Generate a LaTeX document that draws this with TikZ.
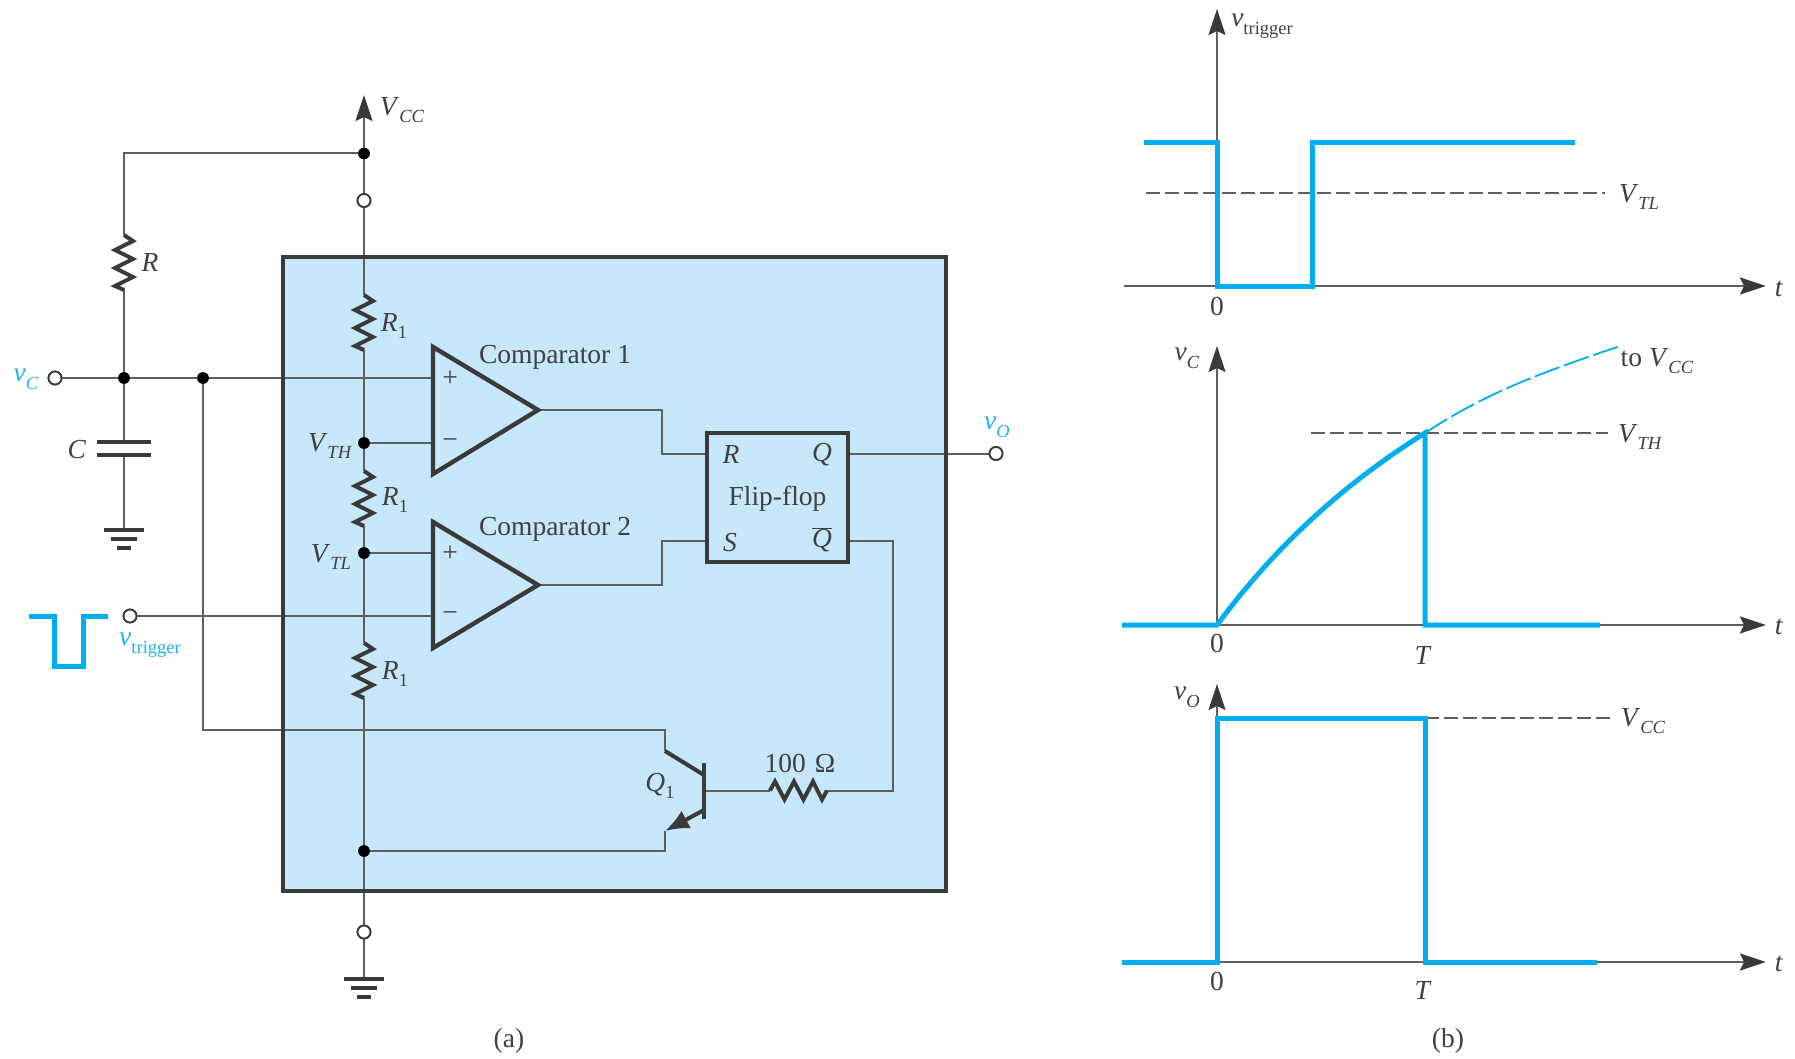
\documentclass[tikz,border=0pt]{standalone}
\usepackage{fontspec}
\setmainfont{Liberation Serif}
\usetikzlibrary{arrows.meta}
\definecolor{boxfill}{HTML}{C6E8FA}
\definecolor{sigblue}{HTML}{00AEEF}
\definecolor{labblue}{HTML}{1FB3E6}
\definecolor{ink}{HTML}{3A3A3A}
\definecolor{wirec}{HTML}{5F5F5F}
\definecolor{txt}{HTML}{404040}
\newcommand{\bigf}{\fontsize{27.5}{31}\selectfont}
\newcommand{\subf}{\fontsize{18.5}{22}\selectfont}
\newcommand{\lab}[2]{\textit{#1}\raisebox{-0.28em}{\subf\textit{#2}}}
\newcommand{\labup}[2]{\textit{#1}\raisebox{-0.28em}{\subf #2}}
\newcommand{\vzig}[2]{\draw[zig] (#1,#2) -- ++(9,6) -- ++(-18,9) -- ++(18,9) -- ++(-18,9) -- ++(18,9) -- ++(-18,9) -- ++(9,4);}
\tikzset{
  wire/.style={draw=wirec,line width=2pt,line join=miter},
  zig/.style={draw=ink,line width=4pt,line join=miter},
  thick bar/.style={draw=ink,line width=4.6pt},
  jn/.style={circle,fill=black,inner sep=0pt,minimum size=11.5pt},
  term/.style={circle,draw=ink,fill=white,line width=1.8pt,inner sep=0pt,minimum size=13pt},
  tx/.style={text=txt,font=\bigf,inner sep=0pt},
  bluetx/.style={text=labblue,font=\bigf,inner sep=0pt},
  ampl/.style={draw=ink,line width=4.4pt,line join=miter,fill=boxfill},
  arr/.style={draw=wirec,line width=1.8pt,-{Stealth[length=26pt,width=17pt,inset=4pt,color=ink]}},
  axisline/.style={draw=wirec,line width=2.4pt,-{Stealth[length=26pt,width=17pt,inset=4pt,color=ink]}},
  sig/.style={draw=sigblue,line width=5pt,line join=miter},
  dashref/.style={draw=wirec,line width=1.8pt,dash pattern=on 14pt off 5pt},
}
\begin{document}
\begin{tikzpicture}[x=1pt,y=-1pt]
\useasboundingbox (0,0) rectangle (1795,1059);
\fill[white] (0,0) rectangle (1795,1059);
% ---------- box background
\fill[boxfill] (283,257) rectangle (946,891);
% ---------- named points
\coordinate (vcctip) at (364,95);
\node[jn] (ntop) at (364,153.5) {};
\node[term] (topt) at (364,200.5) {};
\coordinate (corner) at (124,153.5);
\coordinate (rt) at (124,235);
\coordinate (rb) at (124,289);
\node[jn] (nc) at (124,378) {};
\node[term] (tvc) at (55,378) {};
\node[jn] (nd) at (203,378) {};
\coordinate (ct) at (124,443);
\coordinate (cb) at (124,455);
\coordinate (gc) at (124,530);
\coordinate (r1at) at (364,295);
\coordinate (r1ab) at (364,350);
\node[jn] (nth) at (364,443) {};
\coordinate (r1bt) at (364,471);
\coordinate (r1bb) at (364,526);
\node[jn] (ntl) at (364,553) {};
\coordinate (r1ct) at (364,643);
\coordinate (r1cb) at (364,698);
\node[jn] (nbot) at (364,851) {};
\node[term] (bott) at (364,932) {};
\coordinate (gb) at (364,979);
\node[term] (ttrig) at (130,616) {};
\node[term] (tvo) at (996,453.5) {};
% comparators
\coordinate (c1a) at (433,347); \coordinate (c1b) at (433,474); \coordinate (c1o) at (538,410);
\coordinate (c2a) at (433,522); \coordinate (c2b) at (433,648); \coordinate (c2o) at (538,585);
\coordinate (c1p) at (433,378); \coordinate (c1m) at (433,443);
\coordinate (c2p) at (433,553); \coordinate (c2m) at (433,616);
% flip-flop ports
\coordinate (ffr) at (707,453.5); \coordinate (ffs) at (707,541);
\coordinate (ffq) at (848,453.5); \coordinate (ffqb) at (848,541);
% transistor
\coordinate (qc) at (665,730); \coordinate (qci) at (665,751); \coordinate (qcb) at (704,775);
\coordinate (qeb) at (704,810); \coordinate (qei) at (665,831); \coordinate (qe) at (665,851);
\coordinate (qb) at (705,790.5); \coordinate (rqa) at (770,790.5); \coordinate (rqb) at (827,790.5);
% ---------- wires
\draw[wire] (ntop) -- (topt);
\draw[arr] (ntop) -- (vcctip);
\draw[wire] (ntop) -- (corner) -- (rt);
\draw[wire] (rb) -- (nc);
\draw[wire] (tvc) -- (nc) -- (nd) -- (c1p);
\draw[wire] (nc) -- (ct);
\draw[wire] (cb) -- (gc);
\draw[wire] (topt) -- (r1at);
\draw[wire] (r1ab) -- (nth) -- (r1bt);
\draw[wire] (r1bb) -- (ntl) -- (r1ct);
\draw[wire] (r1cb) -- (nbot) -- (bott);
\draw[wire] (bott) -- (gb);
\draw[wire] (nth) -- (c1m);
\draw[wire] (ntl) -- (c2p);
\draw[wire] (ttrig) -- (c2m);
\draw[wire] (c1o) -- (662,410) -- (662,453.5) -- (ffr);
\draw[wire] (c2o) -- (662,585) -- (662,541) -- (ffs);
\draw[wire] (ffq) -- (tvo);
\draw[wire] (ffqb) -- (893,541) -- (893,790.5) -- (rqb);
\draw[wire] (rqa) -- (qb);
\draw[wire] (nd) -- (203,730) -- (qc) -- (qci);
\draw[wire] (qei) -- (qe) -- (nbot);
% ---------- box border
\draw[draw=ink,line width=4.4pt] (283,257) rectangle (946,891);
% redraw terminals and dots kept above wires
\node[jn] at (ntop) {}; \node[jn] at (nc) {}; \node[jn] at (nd) {}; \node[jn] at (nth) {};
\node[jn] at (ntl) {}; \node[jn] at (nbot) {};
\node[term] at (topt) {}; \node[term] at (tvc) {}; \node[term] at (bott) {};
\node[term] at (ttrig) {}; \node[term] at (tvo) {};
% ---------- resistors
\vzig{124}{235}
\vzig{364}{295}
\vzig{364}{471}
\vzig{364}{643}
\draw[zig] (rqa) -- ++(5,-9) -- ++(9.5,18) -- ++(9.5,-18) -- ++(9.5,18) -- ++(9.5,-18) -- ++(9,18) -- (rqb);
% ---------- capacitor and grounds
\draw[thick bar] (97,442) -- (151,442);
\draw[thick bar] (97,455) -- (151,455);
\draw[thick bar] (104,530) -- (144,530);
\draw[thick bar] (111,539) -- (137,539);
\draw[thick bar] (117,548) -- (131,548);
\draw[thick bar] (344,979) -- (384,979);
\draw[thick bar] (351,988) -- (377,988);
\draw[thick bar] (357,997) -- (371,997);
% ---------- comparators
\draw[ampl] (c1a) -- (c1o) -- (c1b) -- cycle;
\draw[ampl] (c2a) -- (c2o) -- (c2b) -- cycle;
% ---------- flip-flop
\node[draw=ink,line width=4.4pt,minimum width=141pt,minimum height=129pt,inner sep=0pt,anchor=center,tx] (ff) at (777.5,497.5) {};
\node[tx] (fflab) at (777.5,499) {Flip-flop};
% ---------- transistor
\draw[draw=ink,line width=4.4pt] (704,763) -- (704,819);
\draw[draw=ink,line width=4pt] (qci) -- (qcb);
\draw[draw=ink,line width=4pt,-{Latex[length=24pt,width=20pt,color=ink]}] (qeb) -- (qei);
% ---------- pulse
\draw[sig] (29,616) -- (54,616) -- (54,666) -- (83,666) -- (83,616) -- (108,616);
% ---------- labels (a)
\node[tx] (lvcc) at (402,110) {\lab{V}{CC}};
\node[tx] (lr) at (150,262) {\textit{R}};
\node[tx] (lc) at (77,450) {\textit{C}};
\node[bluetx] (lvc) at (26,379) {\lab{v}{C}};
\node[tx] (lr1a) at (394,326) {\labup{R}{1}};
\node[tx] (lr1b) at (395,500) {\labup{R}{1}};
\node[tx] (lr1c) at (395,674) {\labup{R}{1}};
\node[tx] (lvth) at (330,446) {\lab{V}{TH}};
\node[tx] (lvtl) at (331,557) {\lab{V}{TL}};
\node[tx] (lc1) at (555,357) {Comparator 1};
\node[tx] (lc2) at (555,529) {Comparator 2};
\node[tx] (p1) at (450,379) {+};
\node[tx] (m1) at (450,444) {−};
\node[tx] (p2) at (450,554) {+};
\node[tx] (m2) at (450,617) {−};
\node[tx] (lffr) at (731,454) {\textit{R}};
\node[tx] (lffq) at (822,455) {\textit{Q}};
\node[tx] (lffs) at (730,543) {\textit{S}};
\node[tx] (lffqb) at (822,540) {$\overline{\mbox{\textit{Q}}}$};
\node[tx] (l100) at (800,763) {100\,\,Ω};
\node[tx] (lq1) at (660,786) {\labup{Q}{1}};
\node[bluetx] (lvo) at (997,427) {\lab{v}{O}};
\node[bluetx] (ltrig) at (150,645) {\labup{v}{trigger}};
\node[tx] (lcapa) at (509,1041) {(a)};
\node[tx] (lcapb) at (1448,1041) {(b)};
% ---------- plot 1
\coordinate (o1) at (1217,286);
\coordinate (a1l) at (1124,286); \coordinate (a1r) at (1766,286); \coordinate (a1t) at (1217,9);
\draw[axisline] (a1l) -- (a1r);
\draw[arr] (o1) -- (a1t);
\draw[dashref] (1146,193) -- (1605,193);
\draw[sig] (1144,143) -- (1217,143) -- (1217,286) -- (1312,286) -- (1312,143) -- (1575,143);
\node[tx] (t1) at (1779,289) {\textit{t}};
\node[tx] (z1) at (1217,306) {0};
\node[tx] (lvtr) at (1262,26) {\labup{v}{trigger}};
\node[tx] (lvtl2) at (1639,197) {\lab{V}{TL}};
% ---------- plot 2
\coordinate (o2) at (1217,625);
\coordinate (a2r) at (1766,625); \coordinate (a2t) at (1217,346); \coordinate (a2l) at (1122,625);
\draw[axisline] (a2l) -- (a2r);
\draw[arr] (o2) -- (a2t);
\draw[dashref] (1311,433) -- (1608,433);
\draw[draw=sigblue,line width=1.8pt,dash pattern=on 26pt off 5pt] (1425,433) .. controls (1490,390) and (1550,370) .. (1620,346);
\draw[sig] (1122,625) -- (o2) .. controls (1280,540) and (1350,480) .. (1425,433) -- (1425,625) -- (1600,625);
\node[tx] (t2) at (1779,627) {\textit{t}};
\node[tx] (z2) at (1217,643) {0};
\node[tx] (tT2) at (1423,655) {\textit{T}};
\node[tx] (lvc2) at (1187,358) {\lab{v}{C}};
\node[tx] (lvth2) at (1640,437) {\lab{V}{TH}};
\node[tx] (ltovcc) at (1657,361) {to \lab{V}{CC}};
% ---------- plot 3
\coordinate (o3) at (1217,962);
\coordinate (a3r) at (1766,962); \coordinate (a3t) at (1217,684); \coordinate (a3l) at (1122,962);
\draw[axisline] (a3l) -- (a3r);
\draw[arr] (o3) -- (a3t);
\draw[dashref] (1425,718) -- (1612,718);
\draw[sig] (1122,962) -- (o3) -- (1217,718) -- (1425,718) -- (1425,962) -- (1597,962);
\node[tx] (t3) at (1779,964) {\textit{t}};
\node[tx] (z3) at (1217,981) {0};
\node[tx] (tT3) at (1423,990) {\textit{T}};
\node[tx] (lvo2) at (1187,697) {\lab{v}{O}};
\node[tx] (lvcc3) at (1643,721) {\lab{V}{CC}};
\end{tikzpicture}
\end{document}
